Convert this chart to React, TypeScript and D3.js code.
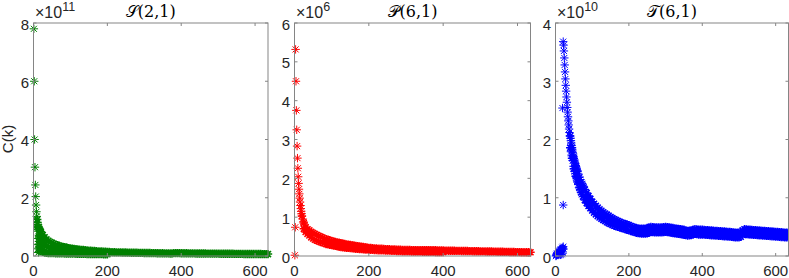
import React from 'react';
import * as d3 from 'd3';

// ---------- data ----------
const xTicks = [0, 200, 400, 600];
const xMax = 635;

const sTicks = [0, 2, 4, 6, 8];
const pTicks = [0, 1, 2, 3, 4, 5, 6];
const tTicks = [0, 1, 2, 3, 4];

const STEP = 5;

// S(2,1), C(k) in units of 1e11
const sHead: [number, number][] = [
  [1, 7.8], [2, 6.0], [3, 4.0], [4, 3.05], [5, 2.44], [6, 2.04], [7, 1.75], [8, 1.52], [9, 1.36], [11, 1.15],
  [12, 1.08], [13, 1.02], [14, 0.98], [16, 0.91], [17, 0.88], [18, 0.86], [19, 0.84],
  [13, 0.85], [13, 0.6], [13, 0.4], [13, 0.25], [13, 0.12], [15, 0.7], [15, 0.5], [15, 0.3], [15, 0.15],
  [17, 0.6], [17, 0.35], [17, 0.2], [19, 0.45], [19, 0.28], [22, 0.62], [24, 0.34], [27, 0.52], [32, 0.45],
];
const sUpperStart = 10;
const sUpper = [
  1.25, 0.94, 0.82, 0.72, 0.64, 0.57, 0.52, 0.48, 0.45, 0.42, 0.39, 0.37, 0.35, 0.33, 0.31, 0.3, 0.29, 0.27, 0.26, 0.25,
  0.245, 0.235, 0.225, 0.22, 0.21, 0.205, 0.2, 0.19, 0.185, 0.18, 0.175, 0.17, 0.165, 0.16, 0.155, 0.152, 0.15, 0.145, 0.14, 0.137,
  0.134, 0.13, 0.128, 0.126, 0.125, 0.123, 0.121, 0.12, 0.118, 0.116, 0.115, 0.113, 0.112, 0.111, 0.11, 0.109, 0.107, 0.106, 0.105, 0.104,
  0.102, 0.101, 0.1, 0.099, 0.097, 0.096, 0.095, 0.094, 0.092, 0.091, 0.09, 0.089, 0.088, 0.088, 0.1, 0.099, 0.098, 0.097, 0.095, 0.094,
  0.093, 0.092, 0.09, 0.09, 0.089, 0.089, 0.088, 0.087, 0.086, 0.086, 0.085, 0.084, 0.083, 0.083, 0.082, 0.081, 0.081, 0.08, 0.08, 0.079,
  0.079, 0.078, 0.078, 0.077, 0.076, 0.076, 0.075, 0.074, 0.074, 0.073, 0.072, 0.072, 0.071, 0.07, 0.07, 0.07, 0.069, 0.069, 0.068, 0.068,
  0.067, 0.067, 0.066, 0.066, 0.065, 0.065,
];
const sMiddleStart = 15;
const sMiddle = [
  0.65, 0.5, 0.43, 0.37, 0.34, 0.31, 0.29, 0.27, 0.255, 0.24, 0.22, 0.21, 0.2, 0.19, 0.185, 0.18, 0.17, 0.165, 0.16, 0.155,
  0.15, 0.15,
];
const sLowerStart = 10;
const sLower = [
  1.0, 0.4, 0.17, 0.14, 0.12, 0.11, 0.1, 0.1, 0.1, 0.097, 0.095, 0.092, 0.09, 0.09, 0.09, 0.088, 0.086, 0.085, 0.083, 0.082,
  0.08, 0.078, 0.077, 0.076, 0.075, 0.074, 0.072, 0.071, 0.07, 0.069, 0.068, 0.067, 0.066, 0.065, 0.064, 0.063, 0.062, 0.061, 0.06,
];

// P(6,1), C(k) in units of 1e6
const pHead: [number, number][] = [
  [1, 0.02], [2, 0.74], [3, 5.32], [4, 4.5], [5, 3.75], [6, 3.25], [7, 2.83], [8, 2.52], [9, 2.26], [10, 2.04],
  [11, 1.87], [12, 1.72], [13, 1.6], [14, 1.49], [15, 1.39], [16, 1.3], [17, 1.22], [18, 1.15], [19, 1.09],
  [22, 0.95], [24, 0.88], [27, 0.8], [33, 0.66], [38, 0.6], [43, 0.55],
];
const pUpperStart = 20;
const pUpper = [
  1.03, 0.85, 0.74, 0.69, 0.66, 0.62, 0.59, 0.565, 0.54, 0.515, 0.495, 0.475, 0.45, 0.435, 0.42, 0.405, 0.39, 0.375, 0.36, 0.35,
  0.34, 0.33, 0.32, 0.31, 0.3, 0.29, 0.283, 0.276, 0.27, 0.262, 0.255, 0.247, 0.24, 0.232, 0.225, 0.217, 0.21, 0.205, 0.2, 0.197,
  0.194, 0.191, 0.188, 0.185, 0.182, 0.178, 0.175, 0.172, 0.17, 0.168, 0.166, 0.164, 0.162, 0.16, 0.158, 0.156, 0.155, 0.154, 0.153, 0.152,
  0.152, 0.151, 0.151, 0.15, 0.15, 0.15, 0.15, 0.15, 0.15, 0.15, 0.15, 0.149, 0.147, 0.145, 0.143, 0.141, 0.14, 0.139, 0.138, 0.137,
  0.136, 0.135, 0.134, 0.133, 0.132, 0.131, 0.13, 0.129, 0.128, 0.127, 0.126, 0.125, 0.124, 0.123, 0.122, 0.121, 0.12, 0.119, 0.118, 0.117,
  0.116, 0.115, 0.114, 0.113, 0.112, 0.111, 0.11, 0.109, 0.108, 0.107, 0.106, 0.105, 0.104, 0.103, 0.102, 0.101, 0.1, 0.099, 0.098, 0.097,
  0.097, 0.096, 0.095, 0.095,
];
const pLowerStart = 25;
const pLower = [
  0.7, 0.62, 0.57, 0.53, 0.48, 0.45, 0.42, 0.4, 0.38, 0.36, 0.345, 0.33, 0.31, 0.3, 0.29, 0.28, 0.27, 0.26, 0.25, 0.24,
  0.233, 0.226, 0.22, 0.214, 0.208, 0.202, 0.197, 0.192, 0.188, 0.184, 0.18, 0.176, 0.172, 0.168, 0.165, 0.162, 0.16, 0.157, 0.155, 0.152,
  0.15, 0.148, 0.146, 0.144, 0.142, 0.14, 0.138, 0.136, 0.134, 0.132, 0.13, 0.128, 0.126, 0.124, 0.122, 0.12, 0.119, 0.118, 0.117, 0.116,
  0.115, 0.114, 0.113, 0.112, 0.111, 0.11, 0.109, 0.108, 0.107, 0.106, 0.105, 0.104, 0.103, 0.102, 0.101, 0.1,
];

// T(6,1), C(k) in units of 1e10
const tHead: [number, number][] = [
  [1, 0.0], [2, 0.02], [3, 0.01], [4, 0.04], [5, 0.02], [6, 0.05], [7, 0.03], [8, 0.07], [9, 0.04], [10, 0.08],
  [11, 0.05], [12, 0.1], [13, 0.06], [14, 0.11], [15, 0.08], [16, 0.12], [17, 0.1], [18, 0.14], [19, 0.12], [20, 0.14],
  [21, 0.16], [22, 0.12], [20, 0.05], [17, 0.03], [14, 0.02], [19, 2.54], [21, 0.875],
  [21, 3.68], [22, 3.62], [23, 3.52], [24, 3.4], [25, 3.28], [26, 3.16], [27, 3.04], [28, 2.93], [29, 2.83], [30, 2.73],
  [31, 2.64], [32, 2.55], [33, 2.47], [34, 2.39], [35, 2.32], [36, 2.25], [37, 2.18], [38, 2.12], [39, 2.06],
  [41, 2.02], [42, 1.98], [43, 1.94], [44, 1.9], [46, 1.82], [47, 1.78], [48, 1.75], [49, 1.71], [51, 1.65], [52, 1.63],
  [53, 1.6], [54, 1.58], [56, 1.53], [57, 1.51], [58, 1.49], [59, 1.47], [62, 1.41], [67, 1.31], [72, 1.24], [77, 1.18],
  [42, 1.79], [44, 1.72], [47, 1.64], [49, 1.54], [52, 1.45], [54, 1.42], [57, 1.35], [59, 1.29], [62, 1.23], [67, 1.14],
  [72, 1.06], [82, 1.02], [88, 0.95], [92, 0.94], [98, 0.86],
];
const tUpperStart = 40;
const tUpper = [
  2.06, 1.86, 1.68, 1.55, 1.45, 1.35, 1.27, 1.2, 1.14, 1.08, 1.03, 0.98, 0.93, 0.895, 0.86, 0.83, 0.8, 0.775, 0.75, 0.73,
  0.71, 0.69, 0.67, 0.65, 0.63, 0.615, 0.6, 0.585, 0.57, 0.56, 0.55, 0.54, 0.53, 0.515, 0.5, 0.49, 0.48, 0.475, 0.47, 0.47,
  0.47, 0.47, 0.48, 0.49, 0.5, 0.495, 0.49, 0.49, 0.49, 0.49, 0.49, 0.495, 0.5, 0.495, 0.49, 0.485, 0.48, 0.475, 0.47, 0.465,
  0.46, 0.455, 0.45, 0.44, 0.43, 0.435, 0.44, 0.45, 0.46, 0.455, 0.45, 0.45, 0.45, 0.447, 0.445, 0.442, 0.44, 0.437, 0.435, 0.432,
  0.43, 0.427, 0.425, 0.422, 0.42, 0.417, 0.415, 0.412, 0.41, 0.405, 0.4, 0.4, 0.4, 0.41, 0.44, 0.46, 0.455, 0.452, 0.45, 0.447,
  0.445, 0.442, 0.44, 0.437, 0.435, 0.432, 0.43, 0.427, 0.425, 0.422, 0.42, 0.417, 0.415, 0.412, 0.41, 0.407, 0.405, 0.402, 0.4, 0.4,
];
const tLowerStart = 40;
const tLower = [
  1.86, 1.68, 1.5, 1.37, 1.27, 1.17, 1.09, 1.02, 0.96, 0.91, 0.86, 0.82, 0.78, 0.745, 0.715, 0.685, 0.66, 0.64, 0.62, 0.6,
  0.58, 0.565, 0.55, 0.535, 0.52, 0.51, 0.5, 0.49, 0.48, 0.47, 0.46, 0.45, 0.44, 0.43, 0.42, 0.41, 0.4, 0.395, 0.39, 0.385,
  0.385, 0.385, 0.39, 0.4, 0.41, 0.41, 0.405, 0.405, 0.405, 0.405, 0.405, 0.41, 0.415, 0.41, 0.405, 0.4, 0.395, 0.39, 0.385, 0.38,
  0.375, 0.37, 0.365, 0.36, 0.35, 0.355, 0.36, 0.37, 0.38, 0.375, 0.37, 0.37, 0.37, 0.367, 0.365, 0.362, 0.36, 0.357, 0.355, 0.352,
  0.35, 0.347, 0.345, 0.342, 0.34, 0.337, 0.335, 0.332, 0.33, 0.325, 0.32, 0.32, 0.32, 0.33, 0.36, 0.38, 0.375, 0.372, 0.37, 0.367,
  0.365, 0.362, 0.36, 0.357, 0.355, 0.352, 0.35, 0.347, 0.345, 0.342, 0.34, 0.337, 0.335, 0.332, 0.33, 0.327, 0.325, 0.322, 0.32, 0.32,
];

// ---------- layout ----------
const W = 789;
const H = 278;
const TOP = 23;
const BOTTOM = 256;
const AXIS_COLOR = '#858585';
const TEXT_COLOR = '#262626';
const FONT = '"Liberation Sans", Arial, Helvetica, sans-serif';

function rowPoints(start: number, values: number[]): [number, number][] {
  const ks = d3.range(values.length).map((i) => start + i * STEP);
  return values.map((v, i) => [ks[i], v]);
}

type Panel = {
  left: number;
  right: number;
  yMax: number;
  yTicks: number[];
  exponent: string;
  titleLetter: string;
  titleArgs: string;
  color: string;
  head: [number, number][];
  band: [number, number][];
};

const panels: Panel[] = [
  {
    left: 33.5, right: 268, yMax: 8, yTicks: sTicks, exponent: '11', titleLetter: '𝒮', titleArgs: '(2,1)', color: '#008000',
    head: sHead,
    band: [...rowPoints(sLowerStart, sLower), ...rowPoints(sMiddleStart, sMiddle), ...rowPoints(sUpperStart, sUpper)],
  },
  {
    left: 294.5, right: 530.5, yMax: 6, yTicks: pTicks, exponent: '6', titleLetter: '𝒫', titleArgs: '(6,1)', color: '#ff0000',
    head: pHead,
    band: [...rowPoints(pLowerStart, pLower), ...rowPoints(pUpperStart, pUpper)],
  },
  {
    left: 555.5, right: 788.5, yMax: 4, yTicks: tTicks, exponent: '10', titleLetter: '𝒯', titleArgs: '(6,1)', color: '#0000ff',
    head: tHead,
    band: [...rowPoints(tLowerStart, tLower), ...rowPoints(tUpperStart, tUpper)],
  },
];

function starPath(x: number, y: number, r: number): string {
  const d = r * 0.72;
  return `M${x - r},${y}L${x + r},${y}M${x},${y - r}L${x},${y + r}M${x - d},${y - d}L${x + d},${y + d}M${x - d},${y + d}L${x + d},${y - d}`;
}

function PanelView({ p }: { p: Panel }) {
  const x = d3.scaleLinear().domain([0, xMax]).range([p.left, p.right]);
  const y = d3.scaleLinear().domain([0, p.yMax]).range([BOTTOM, TOP]);
  const bandPath = p.band.map(([k, v]) => starPath(x(k), y(v), 4.2)).join('');
  const headPath = p.head.map(([k, v]) => starPath(x(k), y(v), 4.2)).join('');
  const tl = 3;
  return (
    <g>
      <path d={bandPath} fill="none" stroke={p.color} strokeWidth={1.5} />
      <path d={headPath} fill="none" stroke={p.color} strokeWidth={1} />
      <rect x={p.left} y={TOP} width={p.right - p.left} height={BOTTOM - TOP} fill="none" stroke={AXIS_COLOR} strokeWidth={1} />
      {xTicks.map((t) => (
        <g key={'x' + t}>
          <line x1={x(t)} x2={x(t)} y1={BOTTOM} y2={BOTTOM - tl} stroke={AXIS_COLOR} />
          <line x1={x(t)} x2={x(t)} y1={TOP} y2={TOP + tl} stroke={AXIS_COLOR} />
          <text x={x(t)} y={276} textAnchor="middle" fontSize={15} fontFamily={FONT} fill={TEXT_COLOR}>{t}</text>
        </g>
      ))}
      {p.yTicks.map((t) => (
        <g key={'y' + t}>
          <line x1={p.left} x2={p.left + tl} y1={y(t)} y2={y(t)} stroke={AXIS_COLOR} />
          <line x1={p.right} x2={p.right - tl} y1={y(t)} y2={y(t)} stroke={AXIS_COLOR} />
          <text x={p.left - 4.5} y={y(t) + 6.5} textAnchor="end" fontSize={15} fontFamily={FONT} fill={TEXT_COLOR}>{t}</text>
        </g>
      ))}
      <text x={p.left + 1.5} y={18} fontSize={16} fontFamily={FONT} fill={TEXT_COLOR}>
        ×10<tspan dy={-7} fontSize={12.5}>{p.exponent}</tspan>
      </text>
      <text x={(p.left + p.right) / 2} y={17} textAnchor="middle" fontSize={16} fontFamily='"DejaVu Serif", serif' fill="#000">
        {p.titleLetter}{p.titleArgs}
      </text>
    </g>
  );
}

export default function App() {
  return (
    <svg width={W} height={H} style={{ position: 'absolute', left: 0, top: 0, background: '#fff' }}>
      <rect x={0} y={0} width={W} height={H} fill="#fff" />
      {panels.map((p, i) => <PanelView key={i} p={p} />)}
      <text transform="translate(13,139) rotate(-90)" textAnchor="middle" fontSize={15} fontFamily={FONT} fill={TEXT_COLOR}>C(k)</text>
    </svg>
  );
}
